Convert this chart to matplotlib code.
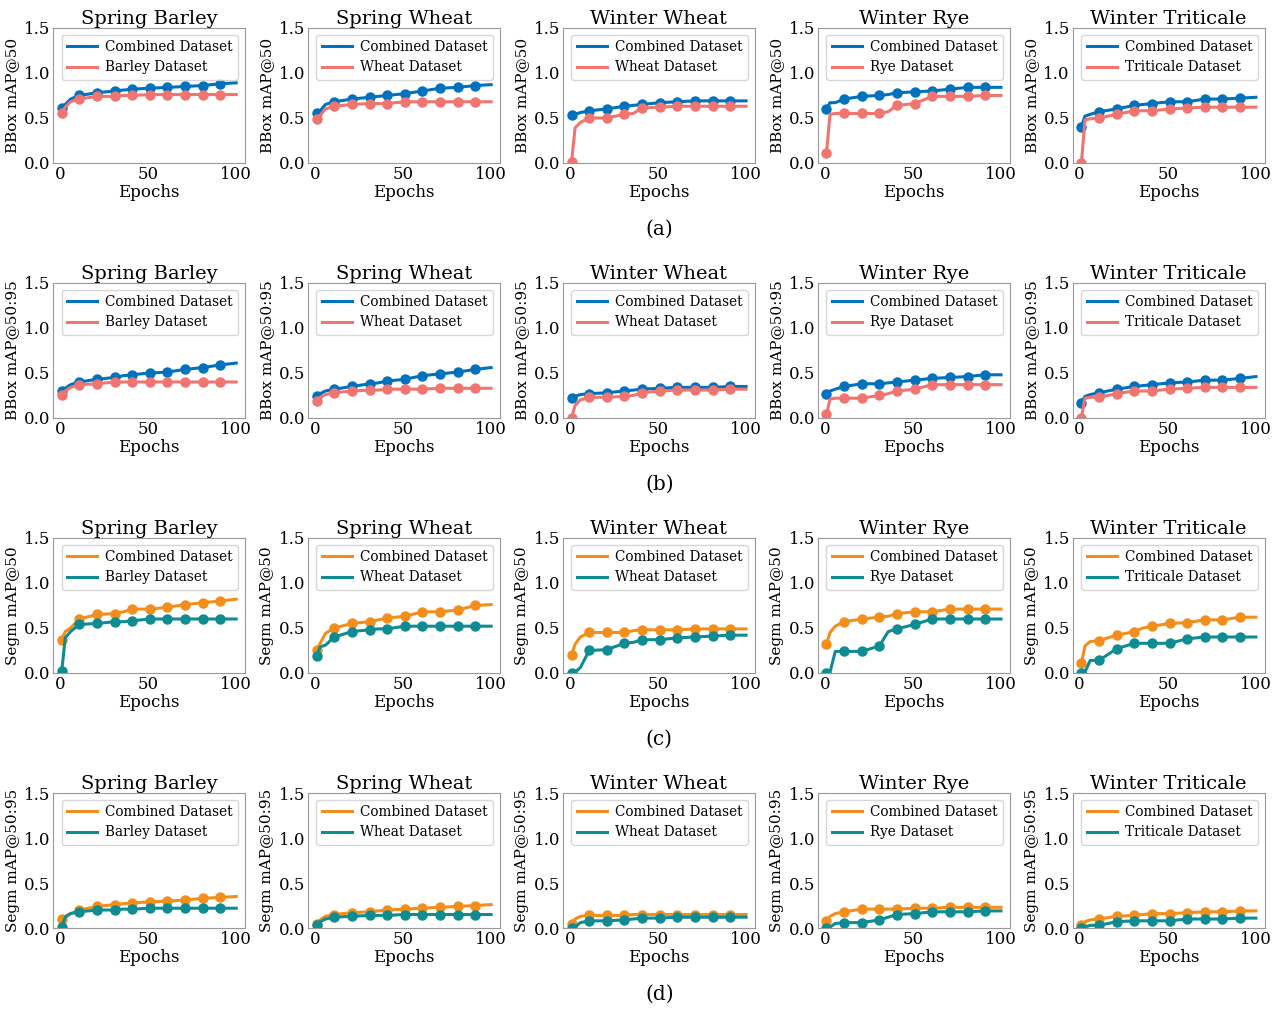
import matplotlib
matplotlib.use("Agg")
import matplotlib.pyplot as plt

plt.rcParams['font.family'] = 'DejaVu Serif'

# ---- data ----
epochs = [1, 3, 6, 11, 21, 31, 36, 41, 51, 61, 71, 81, 91, 100]
mark_epochs = [1, 11, 21, 31, 41, 51, 61, 71, 81, 91]

crops = ["Spring Barley", "Spring Wheat", "Winter Wheat", "Winter Rye", "Winter Triticale"]
own_names = ["Barley Dataset", "Wheat Dataset", "Wheat Dataset", "Rye Dataset", "Triticale Dataset"]
row_ylabels = ["BBox mAP@50", "BBox mAP@50:95", "Segm mAP@50", "Segm mAP@50:95"]
row_tags = ["(a)", "(b)", "(c)", "(d)"]

# BBox mAP@50
bbox50_comb = [
    [0.61, 0.65, 0.71, 0.75, 0.78, 0.80, 0.81, 0.82, 0.83, 0.84, 0.85, 0.86, 0.88, 0.89],
    [0.55, 0.58, 0.65, 0.68, 0.71, 0.73, 0.74, 0.75, 0.77, 0.80, 0.83, 0.84, 0.86, 0.87],
    [0.53, 0.54, 0.56, 0.58, 0.60, 0.63, 0.64, 0.65, 0.67, 0.68, 0.69, 0.69, 0.69, 0.69],
    [0.60, 0.67, 0.67, 0.71, 0.74, 0.75, 0.76, 0.78, 0.79, 0.80, 0.82, 0.84, 0.84, 0.84],
    [0.40, 0.52, 0.54, 0.57, 0.60, 0.64, 0.65, 0.66, 0.68, 0.68, 0.71, 0.71, 0.72, 0.73],
]
bbox50_own = [
    [0.56, 0.62, 0.68, 0.71, 0.74, 0.74, 0.75, 0.75, 0.76, 0.76, 0.76, 0.76, 0.76, 0.76],
    [0.49, 0.53, 0.60, 0.63, 0.65, 0.66, 0.66, 0.66, 0.68, 0.68, 0.68, 0.68, 0.68, 0.68],
    [0.01, 0.39, 0.45, 0.50, 0.50, 0.54, 0.55, 0.61, 0.62, 0.63, 0.63, 0.63, 0.63, 0.63],
    [0.11, 0.54, 0.55, 0.55, 0.55, 0.55, 0.57, 0.64, 0.66, 0.74, 0.74, 0.74, 0.75, 0.75],
    [0.00, 0.48, 0.49, 0.50, 0.54, 0.58, 0.58, 0.58, 0.60, 0.61, 0.62, 0.62, 0.62, 0.62],
]

# BBox mAP@50:95
bbox5095_comb = [
    [0.30, 0.33, 0.37, 0.40, 0.43, 0.45, 0.47, 0.48, 0.50, 0.51, 0.54, 0.56, 0.59, 0.61],
    [0.24, 0.27, 0.30, 0.32, 0.35, 0.38, 0.39, 0.41, 0.43, 0.47, 0.49, 0.51, 0.54, 0.56],
    [0.22, 0.24, 0.26, 0.27, 0.28, 0.30, 0.31, 0.32, 0.33, 0.34, 0.34, 0.34, 0.35, 0.35],
    [0.27, 0.30, 0.32, 0.35, 0.38, 0.38, 0.39, 0.40, 0.42, 0.44, 0.45, 0.46, 0.48, 0.48],
    [0.17, 0.24, 0.26, 0.28, 0.32, 0.35, 0.36, 0.37, 0.39, 0.40, 0.42, 0.42, 0.44, 0.46],
]
bbox5095_own = [
    [0.25, 0.30, 0.34, 0.37, 0.38, 0.40, 0.40, 0.40, 0.40, 0.40, 0.40, 0.40, 0.40, 0.40],
    [0.19, 0.23, 0.26, 0.28, 0.30, 0.31, 0.31, 0.32, 0.32, 0.32, 0.33, 0.33, 0.33, 0.33],
    [0.00, 0.14, 0.20, 0.23, 0.23, 0.24, 0.25, 0.28, 0.30, 0.31, 0.31, 0.31, 0.32, 0.32],
    [0.04, 0.21, 0.22, 0.22, 0.22, 0.25, 0.27, 0.30, 0.32, 0.37, 0.37, 0.37, 0.37, 0.37],
    [0.00, 0.22, 0.23, 0.23, 0.27, 0.30, 0.30, 0.30, 0.32, 0.33, 0.34, 0.34, 0.34, 0.34],
]

# Segm mAP@50
segm50_comb = [
    [0.37, 0.46, 0.50, 0.60, 0.65, 0.66, 0.68, 0.71, 0.71, 0.73, 0.76, 0.78, 0.80, 0.82],
    [0.25, 0.33, 0.44, 0.50, 0.55, 0.57, 0.59, 0.61, 0.63, 0.68, 0.68, 0.70, 0.75, 0.76],
    [0.20, 0.32, 0.40, 0.45, 0.45, 0.45, 0.47, 0.48, 0.48, 0.48, 0.49, 0.49, 0.49, 0.49],
    [0.32, 0.45, 0.52, 0.57, 0.60, 0.62, 0.63, 0.66, 0.68, 0.68, 0.71, 0.71, 0.71, 0.71],
    [0.11, 0.30, 0.35, 0.36, 0.42, 0.46, 0.50, 0.52, 0.55, 0.56, 0.59, 0.59, 0.62, 0.62],
]
segm50_own = [
    [0.02, 0.39, 0.46, 0.54, 0.55, 0.57, 0.57, 0.58, 0.60, 0.60, 0.60, 0.60, 0.60, 0.60],
    [0.19, 0.29, 0.31, 0.40, 0.46, 0.48, 0.49, 0.49, 0.52, 0.52, 0.52, 0.52, 0.52, 0.52],
    [0.00, 0.01, 0.06, 0.25, 0.26, 0.33, 0.34, 0.37, 0.37, 0.39, 0.40, 0.41, 0.42, 0.42],
    [0.00, 0.01, 0.24, 0.24, 0.24, 0.30, 0.46, 0.49, 0.54, 0.60, 0.60, 0.60, 0.60, 0.60],
    [0.00, 0.01, 0.14, 0.14, 0.27, 0.33, 0.33, 0.33, 0.33, 0.38, 0.40, 0.40, 0.40, 0.40],
]

# Segm mAP@50:95
segm5095_comb = [
    [0.10, 0.13, 0.16, 0.20, 0.24, 0.26, 0.27, 0.28, 0.29, 0.30, 0.31, 0.33, 0.34, 0.35],
    [0.05, 0.09, 0.13, 0.15, 0.17, 0.18, 0.19, 0.20, 0.21, 0.22, 0.23, 0.24, 0.25, 0.26],
    [0.05, 0.10, 0.13, 0.14, 0.14, 0.14, 0.15, 0.15, 0.15, 0.15, 0.15, 0.15, 0.15, 0.15],
    [0.08, 0.13, 0.16, 0.18, 0.21, 0.21, 0.21, 0.21, 0.22, 0.22, 0.23, 0.23, 0.23, 0.23],
    [0.03, 0.07, 0.09, 0.10, 0.13, 0.14, 0.15, 0.16, 0.16, 0.17, 0.18, 0.18, 0.19, 0.19],
]
segm5095_own = [
    [0.01, 0.12, 0.16, 0.18, 0.20, 0.20, 0.21, 0.21, 0.22, 0.22, 0.22, 0.22, 0.22, 0.22],
    [0.03, 0.07, 0.10, 0.12, 0.13, 0.14, 0.14, 0.14, 0.15, 0.15, 0.15, 0.15, 0.15, 0.15],
    [0.00, 0.01, 0.06, 0.08, 0.08, 0.09, 0.10, 0.11, 0.11, 0.12, 0.12, 0.12, 0.12, 0.12],
    [0.00, 0.01, 0.05, 0.06, 0.06, 0.09, 0.12, 0.15, 0.16, 0.18, 0.18, 0.18, 0.19, 0.19],
    [0.00, 0.01, 0.03, 0.03, 0.07, 0.08, 0.08, 0.08, 0.08, 0.10, 0.10, 0.10, 0.11, 0.11],
]

rows = [
    (bbox50_comb, bbox50_own, '#0072BD', '#F07470'),
    (bbox5095_comb, bbox5095_own, '#0072BD', '#F07470'),
    (segm50_comb, segm50_own, '#F28E1C', '#0E8C92'),
    (segm5095_comb, segm5095_own, '#F28E1C', '#0E8C92'),
]

mark_idx = [i for i, e in enumerate(epochs) if e in mark_epochs]

fig, axes = plt.subplots(4, 5, figsize=(12.8, 10.13), dpi=100)
fig.subplots_adjust(left=0.0414, right=0.988, top=0.9724, bottom=0.0839,
                    wspace=0.328, hspace=0.889)

for r, (comb, own, c1, c2) in enumerate(rows):
    for c in range(5):
        ax = axes[r, c]
        ax.plot(epochs, comb[c], color=c1, lw=2.2, marker='o', ms=6.5,
                markevery=mark_idx, label='Combined Dataset')
        ax.plot(epochs, own[c], color=c2, lw=2.2, marker='o', ms=6.5,
                markevery=mark_idx, label=own_names[c])
        # legend handles drawn without markers
        ax.legend(handles=[
            plt.Line2D([], [], color=c1, lw=2.2, label='Combined Dataset'),
            plt.Line2D([], [], color=c2, lw=2.2, label=own_names[c])],
            loc='upper right', fontsize=9.8, labelspacing=0.45,
            handlelength=2.2, handletextpad=0.6)
        ax.set_ylim(0, 1.5)
        ax.set_yticks([0.0, 0.5, 1.0, 1.5])
        ax.set_xticks([0, 50, 100])
        ax.tick_params(labelsize=12, length=0, pad=2)
        ax.set_title(crops[c], fontsize=14, pad=3)
        ax.set_xlabel('Epochs', fontsize=12, labelpad=1)
        ax.set_ylabel(row_ylabels[r], fontsize=11, labelpad=3)
        for s in ax.spines.values():
            s.set_color('#999999')

    y_tag = 1 - (229 + r * 255) / 1013
    fig.text(0.515, y_tag, row_tags[r], ha='center', va='center', fontsize=14.5)

fig.savefig('out.png', dpi=100)
